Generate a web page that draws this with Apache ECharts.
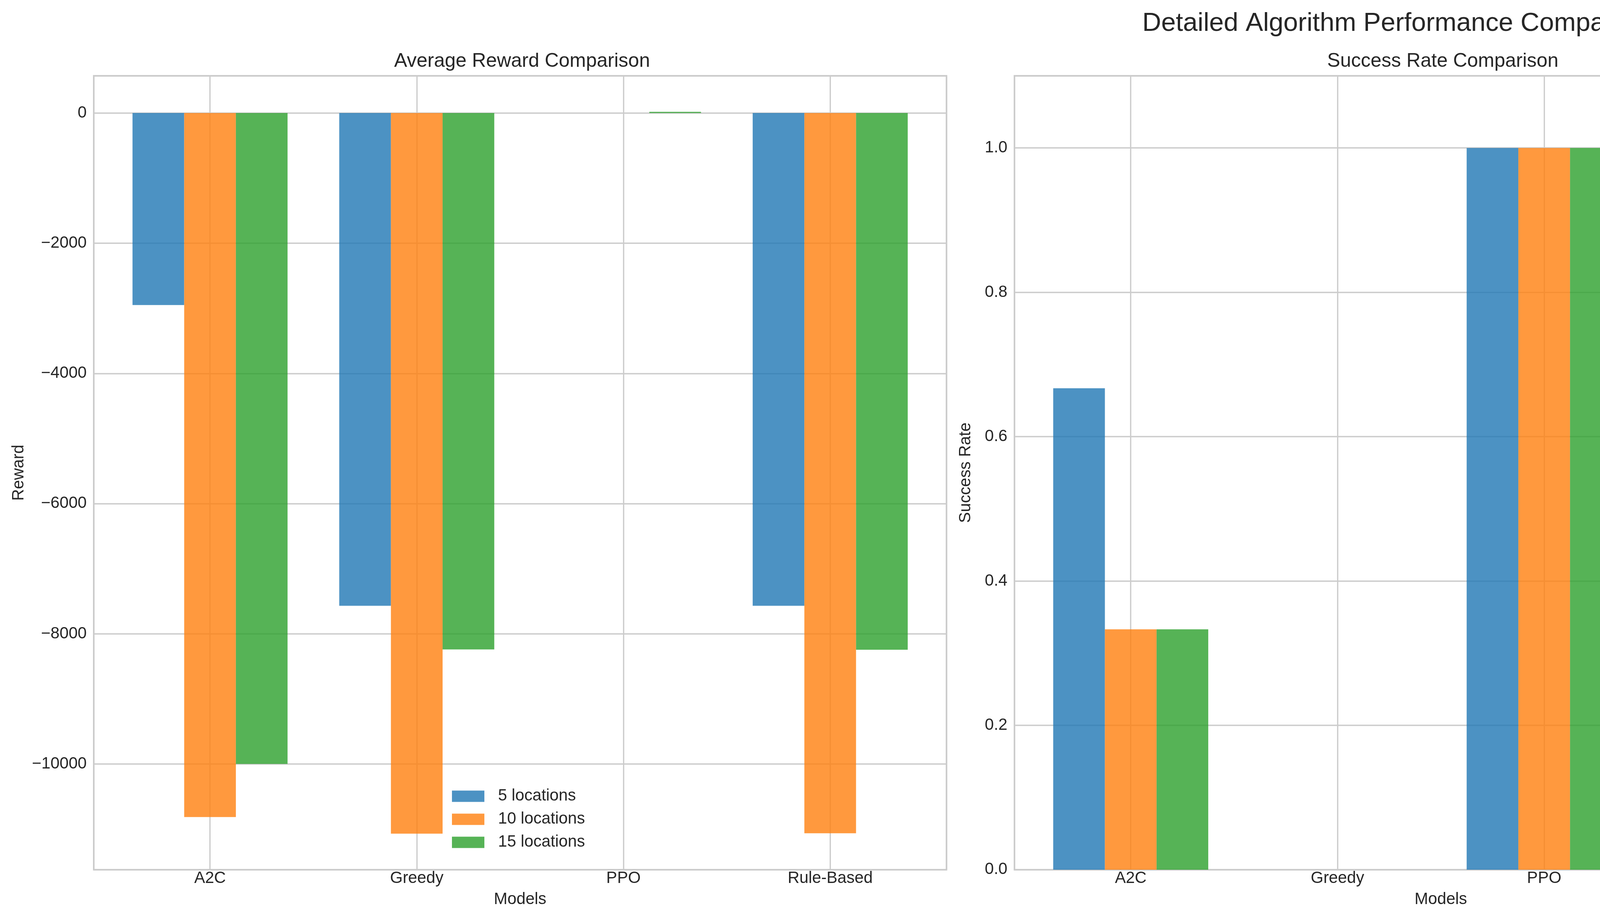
<!DOCTYPE html>
<html>
<head>
<meta charset="utf-8">
<title>Detailed Algorithm Performance Comparison</title>
<script src="https://cdn.jsdelivr.net/npm/echarts@6.0.0/dist/echarts.min.js"></script>
<style>
  html, body { margin: 0; padding: 0; background: #fff; }
  #chart { width: 7168px; height: 2365px; }
</style>
</head>
<body>
<div id="chart"></div>
<script>
// categories
const models = ['A2C', 'Greedy', 'PPO', 'Rule-Based']
const rlModels = ['PPO', 'A2C']
const seriesNames = ['5 locations', '10 locations', '15 locations']

// average reward per model
const reward5 = [-2950, -7570, 0, -7570]
const reward10 = [-10815, -11070, 0, -11065]
const reward15 = [-10000, -8240, 18, -8245]

// success rate
const success5 = [0.667, 0, 1, 0]
const success10 = [0.333, 0, 1, 0]
const success15 = [0.333, 0, 1, 0]

// training time, seconds (PPO, A2C)
const time5 = [0.536, 0.624]
const time10 = [0.554, 0.648]
const time15 = [0.561, 0.648]

const colors = ['rgba(31,119,180,0.8)', 'rgba(255,127,14,0.8)', 'rgba(44,160,44,0.8)']
const FONT = 'Liberation Sans'
const INK = '#262626'
const GRIDC = '#cccccc'
const TICK = 41.7

// panel boxes in px
const panels = [
  { left: 240, width: 2183, nameGap: 170 },
  { left: 2597, width: 2183, nameGap: 103 },
  { left: 4953, width: 2185, nameGap: 99 }
]
const TOP = 194
const HEIGHT = 2032

function pairs(vals) {
  return vals.map((v, i) => [i, v])
}

// matplotlib style 5% margin
function padExtent(lo, hi) {
  const m = (hi - lo) * 0.05
  return [lo - m, hi + m]
}

const allReward = reward5.concat(reward10, reward15, [0])
const rewardExt = padExtent(Math.min.apply(null, allReward), Math.max.apply(null, allReward))
const timeExt = [0, Math.max.apply(null, time5.concat(time10, time15)) * 1.05]

function catAxis(idx, names, title) {
  return {
    type: 'value',
    gridIndex: idx,
    min: -0.5625,
    max: names.length - 1 + 0.5625,
    minInterval: 1,
    maxInterval: 1,
    name: title,
    nameLocation: 'middle',
    nameGap: 56,
    nameTextStyle: { fontFamily: FONT, fontSize: TICK, color: INK },
    axisLine: { show: false },
    axisTick: { show: false },
    axisLabel: {
      fontFamily: FONT, fontSize: TICK, color: INK, margin: 2,
      showMinLabel: false, showMaxLabel: false,
      formatter: v => (Number.isInteger(v) && names[v] !== undefined) ? names[v] : ''
    },
    splitLine: { show: true, lineStyle: { color: GRIDC, width: 3.3 } }
  }
}

function valAxis(idx, title, ext, step, fmt, showMin) {
  return {
    type: 'value',
    gridIndex: idx,
    min: ext[0],
    max: ext[1],
    minInterval: step,
    maxInterval: step,
    name: title,
    nameLocation: 'middle',
    nameGap: panels[idx].nameGap,
    nameTextStyle: { fontFamily: FONT, fontSize: TICK, color: INK },
    axisLine: { show: false },
    axisTick: { show: false },
    axisLabel: {
      fontFamily: FONT, fontSize: TICK, color: INK, margin: 18,
      showMinLabel: showMin, showMaxLabel: false,
      formatter: fmt
    },
    splitLine: { show: true, lineStyle: { color: GRIDC, width: 3.3 } }
  }
}

const intFmt = v => {
  const r = Math.round(v)
  return r < 0 ? '\u2212' + Math.abs(r) : String(r)
}
const oneDec = v => v.toFixed(1)

function bars(idx, lists) {
  return lists.map((vals, k) => ({
    name: seriesNames[k],
    type: 'bar',
    xAxisIndex: idx,
    yAxisIndex: idx,
    barWidth: '25%',
    barGap: '0%',
    itemStyle: { color: colors[k] },
    data: pairs(vals)
  }))
}

function legend(left, top) {
  return {
    data: seriesNames,
    orient: 'vertical',
    left: left,
    top: top,
    padding: 0,
    icon: 'rect',
    itemWidth: 83,
    itemHeight: 29,
    itemGap: 17,
    selectedMode: false,
    textStyle: { fontFamily: FONT, fontSize: TICK, color: INK, padding: [0, 0, 0, 30] }
  }
}

function subTitle(p, text) {
  return {
    text: text,
    left: p.left + p.width / 2,
    top: 127,
    textAlign: 'center',
    textStyle: { fontFamily: FONT, fontSize: 50, fontWeight: 'normal', color: INK }
  }
}

const option = {
  animation: false,
  backgroundColor: '#fff',
  title: [
    {
      text: 'Detailed Algorithm Performance Comparison',
      left: 3584,
      top: 22,
      textAlign: 'center',
      textStyle: { fontFamily: FONT, fontSize: 67, fontWeight: 'normal', color: INK }
    },
    subTitle(panels[0], 'Average Reward Comparison'),
    subTitle(panels[1], 'Success Rate Comparison'),
    subTitle(panels[2], 'Training Time (RL Algorithms Only)')
  ],
  legend: [legend(1157, 2017), legend(4402, 215), legend(4988, 215)],
  grid: panels.map(p => ({
    left: p.left, top: TOP, width: p.width, height: HEIGHT,
    show: true, borderColor: GRIDC, borderWidth: 4
  })),
  xAxis: [
    catAxis(0, models, 'Models'),
    catAxis(1, models, 'Models'),
    catAxis(2, rlModels, 'RL Models')
  ],
  yAxis: [
    valAxis(0, 'Reward', rewardExt, 2000, intFmt, false),
    valAxis(1, 'Success Rate', [0, 1.1], 0.2, oneDec, true),
    valAxis(2, 'Training Time (seconds)', timeExt, 0.1, oneDec, true)
  ],
  series: []
    .concat(bars(0, [reward5, reward10, reward15]))
    .concat(bars(1, [success5, success10, success15]))
    .concat(bars(2, [time5, time10, time15]))
}

const chart = echarts.init(document.getElementById('chart'), null, { renderer: 'canvas' })
chart.setOption(option)
</script>
</body>
</html>
